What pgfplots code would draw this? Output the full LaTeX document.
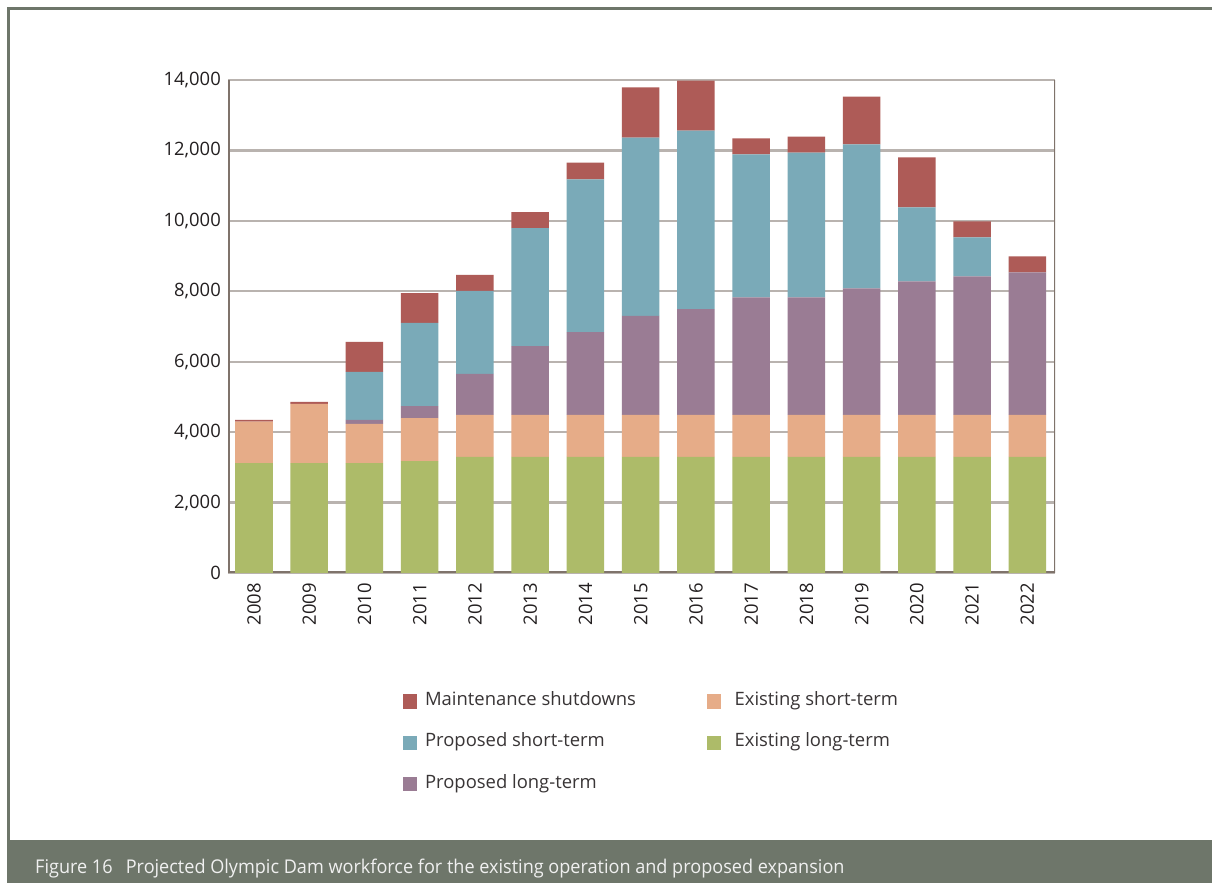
\documentclass[border=0pt]{standalone}
\usepackage{fontspec}
\setmainfont{Open Sans}
\newfontfamily\capfont[FakeStretch=0.955]{Open Sans}
\usepackage{pgfplots}
\pgfplotsset{compat=1.18}
\definecolor{cMaint}{HTML}{AE5B57}
\definecolor{cPS}{HTML}{7AAAB8}
\definecolor{cPL}{HTML}{9A7C94}
\definecolor{cES}{HTML}{E6AC88}
\definecolor{cEL}{HTML}{ADBB69}
\definecolor{gridcol}{HTML}{B9B3AF}
\definecolor{axiscol}{HTML}{7F736B}
\definecolor{framecol}{HTML}{6E766A}
\definecolor{txtcol}{HTML}{231F20}
\begin{document}
\begin{tikzpicture}[x=1bp,y=1bp]
\useasboundingbox (0,0) rectangle (1212,883);
\fill[white] (0,0) rectangle (1212,883);
\draw[framecol, line width=2.6bp] (8.7,43) -- (8.7,874.3) -- (1212,874.3);
\fill[framecol] (7.4,0) rectangle (1212,43);
\node[anchor=base west, text=white!94!black, font=\capfont\fontsize{19}{22}\selectfont, inner sep=0pt] at (35,9.3) {Figure 16\hspace{0.45em} Projected Olympic Dam workforce for the existing operation and proposed expansion};
\begin{axis}[
  at={(228bp,310bp)}, anchor=south west, scale only axis,
  width=827bp, height=493bp,
  ybar stacked, bar width=0.68,
  xmin=-0.47, xmax=14.5, ymin=0, ymax=14000,
  xtick={0,...,14},
  xticklabels={2008,2009,2010,2011,2012,2013,2014,2015,2016,2017,2018,2019,2020,2021,2022},
  ytick={0,2000,...,14000},
  scaled y ticks=false,
  /pgf/number format/.cd, 1000 sep={,}, assume math mode=true, /pgfplots/.cd,
  major tick length=0pt,
  tick style={draw=none},
  axis line style={draw=none},
  ymajorgrids, major grid style={gridcol, line width=2.2bp},
  ticklabel style={font=\fontsize{18.5}{21}\selectfont, text=txtcol, inner sep=0pt},
  yticklabel shift=7bp,
  xticklabel shift=10bp,
  xticklabel style={rotate=90, anchor=east},
  legend columns=2,
  legend cell align=left,
  legend style={at={(0.2116,-0.2427)}, anchor=north west, draw=none, fill=none,
    inner sep=0pt, outer sep=0pt, row sep=24.3bp,
    font=\fontsize{18.5}{21}\selectfont, text=txtcol!90!white,
    nodes={inner sep=0pt, text height=13bp, text depth=4bp},
    /tikz/every odd column/.append style={column sep=8.3bp}},
]
% Existing long-term
\addplot[fill=cEL, draw=none, forget plot] coordinates {(0,3120) (1,3120) (2,3120) (3,3180) (4,3300) (5,3300) (6,3300) (7,3300) (8,3300) (9,3300) (10,3300) (11,3300) (12,3300) (13,3300) (14,3300)};
% Existing short-term
\addplot[fill=cES, draw=none, forget plot] coordinates {(0,1180) (1,1685) (2,1115) (3,1220) (4,1190) (5,1190) (6,1190) (7,1190) (8,1190) (9,1190) (10,1190) (11,1190) (12,1190) (13,1190) (14,1190)};
% Proposed long-term
\addplot[fill=cPL, draw=none, forget plot] coordinates {(0,0) (1,0) (2,110) (3,340) (4,1165) (5,1950) (6,2350) (7,2810) (8,3000) (9,3340) (10,3340) (11,3595) (12,3790) (13,3935) (14,4050)};
% Proposed short-term
\addplot[fill=cPS, draw=none, forget plot] coordinates {(0,0) (1,0) (2,1365) (3,2360) (4,2355) (5,3350) (6,4340) (7,5065) (8,5075) (9,4055) (10,4110) (11,4085) (12,2100) (13,1105) (14,0)};
% Maintenance shutdowns
\addplot[fill=cMaint, draw=none, forget plot] coordinates {(0,50) (1,55) (2,850) (3,850) (4,455) (5,460) (6,470) (7,1425) (8,1420) (9,455) (10,455) (11,1360) (12,1420) (13,455) (14,450)};
\addlegendimage{legend image code/.code={\fill[cMaint] (0bp,-6.7bp) rectangle (13.4bp,6.7bp);}}
\addlegendentry{\makebox[282bp][l]{Maintenance shutdowns}}
\addlegendimage{legend image code/.code={\path[draw=none, fill=none] (0bp,-6.7bp) rectangle (19bp,6.7bp); \fill[cES] (0bp,-6.7bp) rectangle (13.4bp,6.7bp);}}
\addlegendentry{Existing short-term}
\addlegendimage{legend image code/.code={\fill[cPS] (0bp,-6.7bp) rectangle (13.4bp,6.7bp);}}
\addlegendentry{\makebox[282bp][l]{Proposed short-term}}
\addlegendimage{legend image code/.code={\path[draw=none, fill=none] (0bp,-6.7bp) rectangle (19bp,6.7bp); \fill[cEL] (0bp,-6.7bp) rectangle (13.4bp,6.7bp);}}
\addlegendentry{Existing long-term}
\addlegendimage{legend image code/.code={\fill[cPL] (0bp,-6.7bp) rectangle (13.4bp,6.7bp);}}
\addlegendentry{\makebox[282bp][l]{Proposed long-term}}
\draw[axiscol, line width=3bp] (rel axis cs:0,1) -- (rel axis cs:0,0) -- (rel axis cs:1,0) -- (rel axis cs:1,1);
\draw[gridcol, line width=2.2bp] (rel axis cs:0,1) -- (rel axis cs:1,1);
\end{axis}
\end{tikzpicture}
\end{document}
